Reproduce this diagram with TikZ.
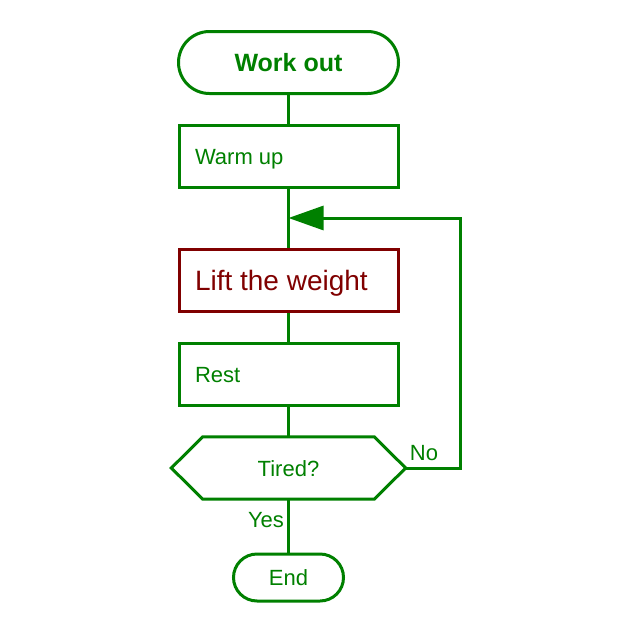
\documentclass[tikz,border=0pt]{standalone}
\usepackage{fontspec}
\setmainfont{Liberation Sans}
\usetikzlibrary{arrows.meta,calc}
\definecolor{fg}{HTML}{008000}
\definecolor{dred}{HTML}{800000}
\begin{document}
\begin{tikzpicture}[x=1pt,y=-1pt,
  every node/.style={text=fg,font=\fontsize{22}{26}\selectfont,text height=16pt,text depth=0pt},
  term/.style={draw=fg,line width=3pt,rounded corners=#1},
  procbox/.style={draw=fg,line width=3pt,minimum height=62pt,text width=187pt,align=flush left,inner xsep=16pt,inner ysep=0pt},
  conn/.style={draw=fg,line width=3pt}]
\useasboundingbox (0,0) rectangle (640,640);
\node[term=31pt,minimum width=220pt,minimum height=62pt,font=\fontsize{25}{29}\selectfont\bfseries,text height=18pt] (work) at (288.5,62.5) {Work out};
\node[procbox] (warm) at (288.5,156) {Warm up};
\node[procbox,draw=dred,text=dred,font=\fontsize{28}{32}\selectfont,text height=20pt] (lift) at (288.5,280.5) {Lift the weight};
\node[procbox] (rest) at (288.5,374) {Rest};
\node[minimum width=234pt,minimum height=62pt,inner sep=0pt] (tired) at (288.5,468) {Tired?};
\draw[fg,line width=3pt,line join=miter]
  (tired.west) -- ($(tired.north west)+(31.5,0)$) -- ($(tired.north east)+(-31.5,0)$) -- (tired.east)
  -- ($(tired.south east)+(-31.5,0)$) -- ($(tired.south west)+(31.5,0)$) -- cycle;
\node[term=23.5pt,minimum width=110pt,minimum height=47pt] (end) at (288.5,577.5) {End};
\node (no) at (424,452) {No};
\node (yes) at (266,519) {Yes};
\coordinate (join) at (288.5,218);
\coordinate (corner) at (460,468);
\draw[conn] (work) -- (warm);
\draw[conn] (warm) -- (lift);
\draw[conn] (lift) -- (rest);
\draw[conn] (rest) -- (tired.north);
\draw[conn] (tired.south) -- (end);
\draw[conn,-{Triangle[length=35pt,width=24pt,fill=fg]}] (tired.east) -- (corner) |- (join);
\end{tikzpicture}
\end{document}
